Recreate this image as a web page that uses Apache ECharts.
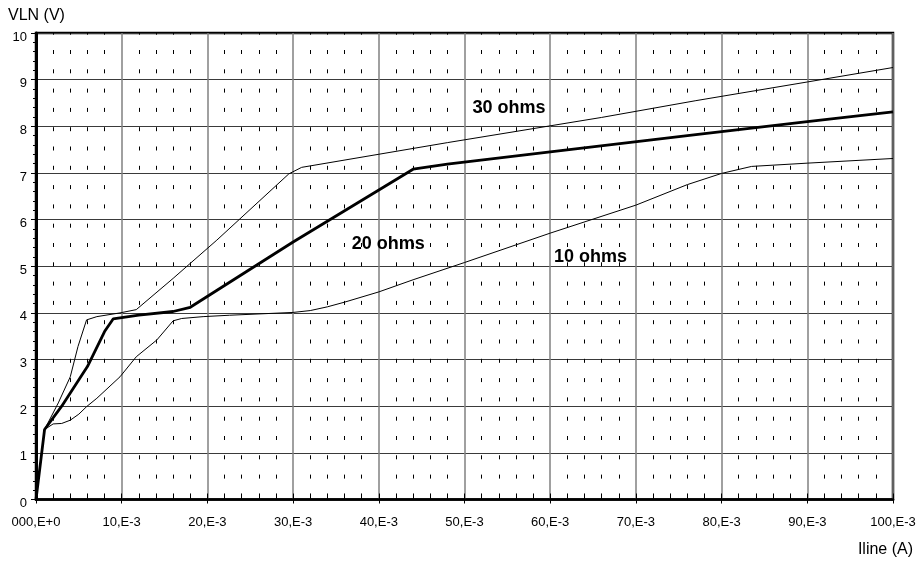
<!DOCTYPE html>
<html>
<head>
<meta charset="utf-8">
<script src="https://cdn.jsdelivr.net/npm/echarts@6/dist/echarts.min.js"></script>
<style>
html,body{margin:0;padding:0;background:#fff;}
#chart{width:919px;height:562px;}
</style>
</head>
<body>
<div id="chart"></div>
<script>
// ---- data (x in units of 1E-3 A, y in V) ----
const xTickLabels = ['000,E+0','10,E-3','20,E-3','30,E-3','40,E-3','50,E-3','60,E-3','70,E-3','80,E-3','90,E-3','100,E-3'];
const yTickLabels = ['0','1','2','3','4','5','6','7','8','9','10'];

const seriesNames = ['30 ohms','20 ohms','10 ohms'];

const current30 = [0, 1, 2.6, 4, 4.9, 5.9, 7.1, 9.8, 11.7, 16, 21.1, 29.5, 31, 48, 66, 77, 90, 100];
const voltage30 = [0, 1.5, 2.07, 2.63, 3.28, 3.85, 3.92, 4.0, 4.07, 4.74, 5.56, 6.98, 7.12, 7.65, 8.19, 8.55, 8.95, 9.26];

const current20 = [0, 1, 3, 6, 8, 9, 12, 16, 18, 30, 44, 48, 60, 77, 90, 100];
const voltage20 = [0, 1.5, 2.0, 2.85, 3.6, 3.87, 3.95, 4.03, 4.12, 5.52, 7.08, 7.19, 7.45, 7.82, 8.10, 8.31];

const current10 = [0, 1, 2, 3, 4, 5, 5.9, 7.1, 9.8, 11.7, 14.1, 16, 17, 19.5, 22.6, 30, 32, 34, 36, 40, 44, 50, 60, 70, 76, 80, 83.5, 90, 100];
const voltage10 = [0, 1.5, 1.62, 1.63, 1.70, 1.83, 1.99, 2.17, 2.63, 3.06, 3.42, 3.83, 3.88, 3.92, 3.95, 4.01, 4.05, 4.13, 4.23, 4.45, 4.71, 5.08, 5.71, 6.31, 6.75, 6.99, 7.14, 7.21, 7.31];

const annotationText = ['30 ohms', '20 ohms', '10 ohms'];
const annotationX = [55.2, 41.1, 64.7];
const annotationY = [8.39, 5.48, 5.20];

const yAxisTitle = 'VLN (V)';
const xAxisTitle = 'Iline (A)';

function pairs(xs, ys){ return xs.map((x,i)=>[x, ys[i]]); }

const FONT = "'Liberation Sans', Arial, sans-serif";
const chart = echarts.init(document.getElementById('chart'), null, {renderer:'canvas'});

const option = {
  animation: false,
  backgroundColor: '#fff',
  grid: {left: 36, right: 26, top: 33, bottom: 62.5, show: true, borderColor: '#000', borderWidth: 2.5, backgroundColor: 'transparent'},
  xAxis: [{
    type: 'value', min: 0, max: 100, interval: 10, position: 'bottom',
    axisLine: {show: true, onZero: false, lineStyle: {color: '#000', width: 2.5}},
    axisTick: {show: true, length: 4, lineStyle: {color: '#000', width: 1}},
    axisLabel: {formatter: (v) => xTickLabels[Math.round(v/10)], fontSize: 13, color: '#000', fontFamily: FONT, margin: 16},
    splitLine: {show: true, lineStyle: {color: '#808080', width: 1.5}},
    minorTick: {show: false, splitNumber: 5},
    minorSplitLine: {show: true, lineStyle: {color: '#000', width: 1, type: [4, 15.3], dashOffset: 2.3}}
  },{
    type: 'value', min: 0, max: 100, interval: 2, position: 'bottom',
    axisLine: {show: false},
    axisTick: {show: true, inside: true, length: 6, lineStyle: {color: '#000', width: 1}},
    axisLabel: {show: false},
    splitLine: {show: false}
  }],
  yAxis: [{
    type: 'value', min: 0, max: 10, interval: 1,
    axisLine: {show: true, onZero: false, lineStyle: {color: '#000', width: 3}},
    axisTick: {show: true, length: 5, lineStyle: {color: '#000', width: 1}},
    minorTick: {show: true, splitNumber: 5, length: 3, lineStyle: {color: '#000', width: 1}},
    axisLabel: {formatter: (v) => yTickLabels[Math.round(v)], fontSize: 13, color: '#000', fontFamily: FONT, margin: 9,
                verticalAlign: 'top', lineHeight: 8},
    splitLine: {show: true, lineStyle: {color: '#3a3a3a', width: 1}}
  }],
  graphic: [
    {type: 'text', left: 8, top: 7.5, style: {text: yAxisTitle, fontSize: 16, fontFamily: FONT, fill: '#000'}},
    {type: 'text', right: 6, top: 542, style: {text: xAxisTitle, fontSize: 16, fontFamily: FONT, fill: '#000'}}
  ],
  series: [
    {name: seriesNames[0], type: 'line', data: pairs(current30, voltage30), showSymbol: false, symbol: 'none',
     lineStyle: {color: '#000', width: 1}, z: 3},
    {name: seriesNames[1], type: 'line', data: pairs(current20, voltage20), showSymbol: false, symbol: 'none',
     lineStyle: {color: '#000', width: 2.8}, z: 4},
    {name: seriesNames[2], type: 'line', data: pairs(current10, voltage10), showSymbol: false, symbol: 'none',
     lineStyle: {color: '#000', width: 1}, z: 3},
    {name: 'labels', type: 'scatter', symbolSize: 0, z: 5, itemStyle: {opacity: 1},
     data: annotationText.map((t,i)=>({name: t, value: [annotationX[i], annotationY[i]]})),
     label: {show: true, position: 'inside', formatter: (p)=>p.name, fontSize: 18, fontWeight: 'bold', color: '#000', opacity: 1, fontFamily: FONT}}
  ]
};
chart.setOption(option);
</script>
</body>
</html>
